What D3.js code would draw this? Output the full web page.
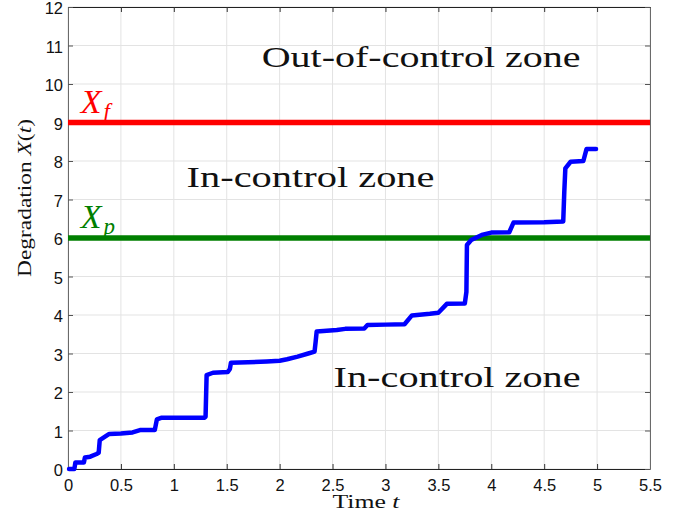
<!DOCTYPE html>
<html><head><meta charset="utf-8">
<script src="https://cdn.jsdelivr.net/npm/d3@7"></script>
<style>body{margin:0;background:#fff;} svg{display:block;}</style>
</head><body>
<svg id="chart" width="692" height="519"></svg>
<script>
const xTicks = [0,0.5,1,1.5,2,2.5,3,3.5,4,4.5,5,5.5];
const yTicks = [0,1,2,3,4,5,6,7,8,9,10,11,12];
const timeT = [0.01,0.06,0.07,0.15,0.16,0.21,0.27,0.29,0.30,0.35,0.39,0.50,0.61,0.68,0.82,0.84,0.88,1.00,1.29,1.30,1.31,1.37,1.51,1.53,1.54,1.70,1.88,2.00,2.07,2.17,2.27,2.33,2.34,2.35,2.54,2.62,2.80,2.83,3.00,3.18,3.25,3.42,3.50,3.58,3.75,3.765,3.77,3.81,3.91,4.00,4.17,4.21,4.50,4.68,4.69,4.70,4.75,4.87,4.90,4.99];
const degX = [0.00,0.00,0.17,0.17,0.30,0.32,0.39,0.42,0.75,0.84,0.91,0.92,0.95,1.01,1.01,1.29,1.33,1.33,1.33,1.36,2.44,2.50,2.52,2.60,2.76,2.77,2.79,2.81,2.85,2.92,3.00,3.05,3.30,3.57,3.61,3.64,3.65,3.74,3.75,3.76,3.99,4.03,4.06,4.29,4.30,4.60,5.82,5.95,6.08,6.14,6.15,6.40,6.41,6.43,7.20,7.81,7.98,8.00,8.31,8.31];
const thresholds = [{name:"f", value:9, color:"#ff0000"},{name:"p", value:6, color:"#007f00"}];
const zoneLabels = [
  {text:"Out-of-control zone", t:1.83, v:10.45, w:319},
  {text:"In-control zone", t:1.12, v:7.32, w:248},
  {text:"In-control zone", t:2.51, v:2.12, w:247}
];

const svg = d3.select("#chart");
const m = {l:68, r:650, t:7, b:469};
const x = d3.scaleLinear().domain([0,5.5]).range([m.l,m.r]);
const y = d3.scaleLinear().domain([0,12]).range([m.b,m.t]);

// grid
const g = svg.append("g");
g.selectAll(".vg").data(xTicks).join("line")
  .attr("x1",d=>x(d)).attr("x2",d=>x(d)).attr("y1",m.t).attr("y2",m.b)
  .attr("stroke","#e3e3e3").attr("stroke-width",1);
g.selectAll(".hg").data(yTicks).join("line")
  .attr("y1",d=>y(d)).attr("y2",d=>y(d)).attr("x1",m.l).attr("x2",m.r)
  .attr("stroke","#e3e3e3").attr("stroke-width",1);

// axes
const fmt = d=>String(d);
const xAxis = svg.append("g").attr("transform",`translate(0,${m.b})`)
  .call(d3.axisBottom(x).tickValues(xTicks).tickFormat(fmt).tickSizeInner(-5).tickSizeOuter(0).tickPadding(10));
const xAxisTop = svg.append("g").attr("transform",`translate(0,${m.t})`)
  .call(d3.axisTop(x).tickValues(xTicks).tickFormat("").tickSizeInner(-5).tickSizeOuter(0));
const yAxis = svg.append("g").attr("transform",`translate(${m.l},0)`)
  .call(d3.axisLeft(y).tickValues(yTicks).tickFormat(fmt).tickSizeInner(-5).tickSizeOuter(0).tickPadding(5));
const yAxisR = svg.append("g").attr("transform",`translate(${m.r},0)`)
  .call(d3.axisRight(y).tickValues(yTicks).tickFormat("").tickSizeInner(-5).tickSizeOuter(0));
[xAxis,xAxisTop].forEach(a=>{a.select(".domain").attr("stroke","#222");a.selectAll(".tick line").attr("stroke","#333");});
[yAxis,yAxisR].forEach(a=>{a.select(".domain").attr("stroke","#6a6a6a");a.selectAll(".tick line").attr("stroke","#555");});
svg.selectAll(".tick text").attr("font-family","'Liberation Sans', Arial, sans-serif").attr("font-size",16.5).attr("fill","#111");
yAxis.selectAll(".tick text").attr("dy","0.4em");

// threshold lines
svg.selectAll(".thr").data(thresholds).join("line")
  .attr("x1",m.l).attr("x2",m.r).attr("y1",d=>y(d.value)).attr("y2",d=>y(d.value))
  .attr("stroke",d=>d.color).attr("stroke-width",5.5);
const thrLab = svg.selectAll(".thl").data(thresholds).join("text")
  .attr("x",x(0.12)).attr("y",d=>y(d.value)-10)
  .attr("fill",d=>d.color).attr("font-family","'Liberation Serif','Times New Roman',serif")
  .attr("font-size",34).attr("font-style","italic");
thrLab.append("tspan").text("X");
thrLab.append("tspan").attr("dy",6).attr("dx",2).attr("font-size",23).text(d=>d.name);

// degradation path
const pts = timeT.map((t,i)=>[t,degX[i]]);
svg.append("path").datum(pts)
  .attr("d",d3.line().x(d=>x(d[0])).y(d=>y(d[1])))
  .attr("fill","none").attr("stroke","#0000ff").attr("stroke-width",4.5)
  .attr("stroke-linejoin","round").attr("stroke-linecap","round");

// zone labels
svg.selectAll(".zl").data(zoneLabels).join("text")
  .attr("x",d=>x(d.t)).attr("y",d=>y(d.v))
  .attr("font-family","'Liberation Serif','Times New Roman',serif").attr("font-size",30)
  .attr("fill","#111").attr("textLength",d=>d.w).attr("lengthAdjust","spacingAndGlyphs")
  .text(d=>d.text);

// axis labels
const xl = svg.append("text").attr("x",366).attr("y",508).attr("text-anchor","middle")
  .attr("font-family","'Liberation Serif','Times New Roman',serif").attr("font-size",18).attr("fill","#111")
  .attr("textLength",67).attr("lengthAdjust","spacingAndGlyphs");
xl.append("tspan").text("Time ");
xl.append("tspan").attr("font-style","italic").text("t");
const yl = svg.append("text").attr("transform",`translate(31,198) rotate(-90)`).attr("text-anchor","middle")
  .attr("font-family","'Liberation Serif','Times New Roman',serif").attr("font-size",18).attr("fill","#111")
  .attr("textLength",158).attr("lengthAdjust","spacingAndGlyphs");
yl.append("tspan").text("Degradation ");
yl.append("tspan").attr("font-style","italic").text("X");
yl.append("tspan").text("(");
yl.append("tspan").attr("font-style","italic").text("t");
yl.append("tspan").text(")");
</script>
</body></html>
